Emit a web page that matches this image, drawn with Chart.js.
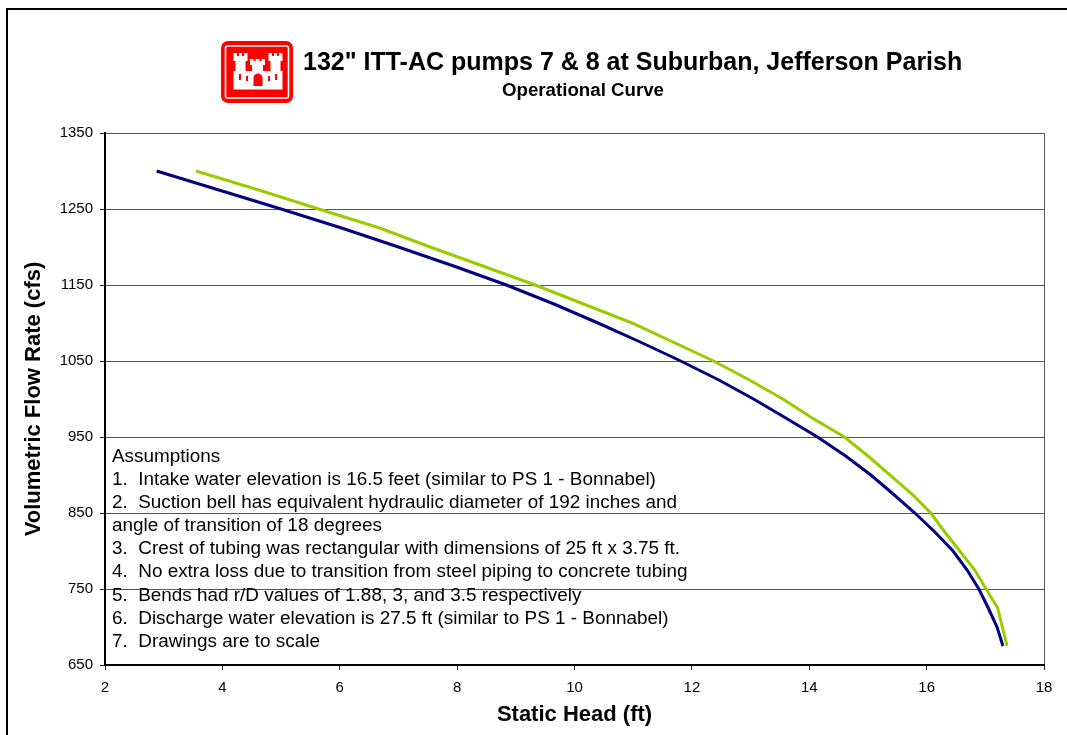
<!DOCTYPE html>
<html>
<head>
<meta charset="utf-8">
<title>Operational Curve</title>
<script src="https://cdn.jsdelivr.net/npm/chart.js@4"></script>
<style>
  html, body { margin: 0; padding: 0; background: #fff; overflow: hidden; }
  #wrap { position: relative; width: 1067px; height: 735px; overflow: hidden; font-family: "Liberation Sans", Arial, sans-serif; color: #000; }
  #chart { position: absolute; left: 0; top: 0; }
  #frame { position: absolute; left: 6px; top: 8px; width: 1100px; height: 800px; border-left: 2px solid #000; border-top: 2px solid #000; }
  #logo { position: absolute; left: 221px; top: 41px; width: 72px; height: 62px; }
  .title { position: absolute; font-weight: bold; white-space: nowrap; }
  #title1 { left: 303px; top: 46px; font-size: 25px; line-height: 30px; }
  #title2 { left: 502px; top: 80px; font-size: 18.7px; line-height: 20px; }
  #notes { position: absolute; left: 112px; top: 444px; font-size: 18.9px; line-height: 23.1px; white-space: pre; }
</style>
</head>
<body>
<div id="wrap">
  <div id="frame"></div>
  <canvas id="chart" width="1067" height="735"></canvas>
  <svg id="logo" viewBox="0 0 72 62">
    <rect width="72" height="62" rx="7" fill="#f00"/>
    <rect x="4.5" y="5" width="63" height="52" rx="2" fill="none" stroke="#fff" stroke-width="1.6"/>
    <g fill="#fff">
      <path d="M12.500 12h3.500v3h2v-3h3v3h2v-3h3.500v8h-2v12h-10V20h-2z"/>
      <path d="M47.500 12h3.500v3h2v-3h3v3h2v-3h3.500v8h-2v12h-10V20h-2z"/>
      <path d="M29 18h3.500v2h2v-2h4v2h2v-2h3.500v6h-2v10H31V24h-2z"/>
      <rect x="12.500" y="30" width="49" height="18.500"/>
    </g>
    <g fill="#f00">
      <path d="M32.500 45v-8a4.500 4.500 0 0 1 9 0v8z"/>
      <rect x="18" y="33" width="2" height="6"/>
      <rect x="25" y="35" width="2" height="5"/>
      <rect x="47" y="35" width="2" height="5"/>
      <rect x="54" y="33" width="2" height="6"/>
    </g>
  </svg>
  <div class="title" id="title1">132" ITT-AC pumps 7 &amp; 8 at Suburban, Jefferson Parish</div>
  <div class="title" id="title2">Operational Curve</div>
  <div id="notes"></div>
</div>
<script>
// Trục
const xTicks = [2, 4, 6, 8, 10, 12, 14, 16, 18];
const yTicks = [650, 750, 850, 950, 1050, 1150, 1250, 1350];
const xTitle = "Static Head (ft)";
const yTitle = "Volumetric Flow Rate (cfs)";

// Đường xanh đậm
const navyFlow = [1300, 1275, 1250, 1225, 1200, 1175, 1150, 1125, 1100, 1075, 1050, 1025, 1000, 975, 950, 925, 900, 875, 850, 825, 800, 775, 750, 725, 700, 675];
const navyHead = [2.88, 3.94, 5.00, 6.03, 7.00, 7.94, 8.84, 9.65, 10.40, 11.12, 11.81, 12.46, 13.05, 13.60, 14.14, 14.62, 15.05, 15.43, 15.80, 16.14, 16.45, 16.69, 16.89, 17.05, 17.20, 17.30];

// Đường xanh lá
const greenFlow = [1300, 1275, 1250, 1225, 1200, 1150, 1100, 1050, 1025, 1000, 975, 950, 925, 875, 850, 825, 775, 725, 675];
const greenHead = [3.55, 4.62, 5.64, 6.68, 7.54, 9.33, 10.98, 12.37, 12.98, 13.55, 14.05, 14.60, 15.00, 15.75, 16.07, 16.31, 16.82, 17.21, 17.37];

// Ghi chú
const notes = [
  "Assumptions",
  "1.  Intake water elevation is 16.5 feet (similar to PS 1 - Bonnabel)",
  "2.  Suction bell has equivalent hydraulic diameter of 192 inches and",
  "angle of transition of 18 degrees",
  "3.  Crest of tubing was rectangular with dimensions of 25 ft x 3.75 ft.",
  "4.  No extra loss due to transition from steel piping to concrete tubing",
  "5.  Bends had r/D values of 1.88, 3, and 3.5 respectively",
  "6.  Discharge water elevation is 27.5 ft (similar to PS 1 - Bonnabel)",
  "7.  Drawings are to scale"
];

document.getElementById("notes").textContent = notes.join("\n");

function toPoints(heads, flows) {
  return heads.map((h, i) => ({ x: h, y: flows[i] }));
}

const fontFamily = '"Liberation Sans", Arial, sans-serif';

new Chart(document.getElementById("chart").getContext("2d"), {
  type: "scatter",
  data: {
    datasets: [
      { data: toPoints(greenHead, greenFlow), borderColor: "#99cc00", borderWidth: 3, showLine: true, pointRadius: 0, tension: 0, fill: false },
      { data: toPoints(navyHead, navyFlow), borderColor: "#000080", borderWidth: 3, showLine: true, pointRadius: 0, tension: 0, fill: false }
    ]
  },
  options: {
    responsive: false,
    animation: false,
    layout: { padding: { left: 0, right: 23, top: 133, bottom: 0 } },
    plugins: { legend: { display: false }, tooltip: { enabled: false } },
    scales: {
      x: {
        type: "linear",
        min: 2,
        max: 18,
        afterBuildTicks: (scale) => { scale.ticks = xTicks.map(v => ({ value: v })); },
        afterFit: (scale) => { scale.height = 70; },
        ticks: { color: "#000", font: { family: fontFamily, size: 15 }, padding: 9, maxRotation: 0, callback: (v) => String(v) },
        // Chỉ vẽ đường viền bên phải
        grid: {
          color: (ctx) => ctx.tick && ctx.tick.value === 18 ? "#555" : "rgba(0,0,0,0)",
          tickColor: "#222",
          tickLength: 5
        },
        border: { color: "#000", width: 2 },
        title: { display: true, text: xTitle, color: "#000", font: { family: fontFamily, size: 22, weight: "bold" }, padding: { top: 4, bottom: 7 } }
      },
      y: {
        type: "linear",
        min: 650,
        max: 1350,
        afterBuildTicks: (scale) => { scale.ticks = yTicks.map(v => ({ value: v })); },
        afterFit: (scale) => { scale.width = 105; },
        ticks: { color: "#000", font: { family: fontFamily, size: 15 }, padding: 7, callback: (v) => String(v) },
        grid: { color: "#555", tickColor: "#222", tickLength: 5 },
        border: { color: "#000", width: 2 },
        title: { display: true, text: yTitle, color: "#000", font: { family: fontFamily, size: 22, weight: "bold" }, padding: { top: 21, bottom: 0 } }
      }
    }
  }
});
</script>
</body>
</html>
